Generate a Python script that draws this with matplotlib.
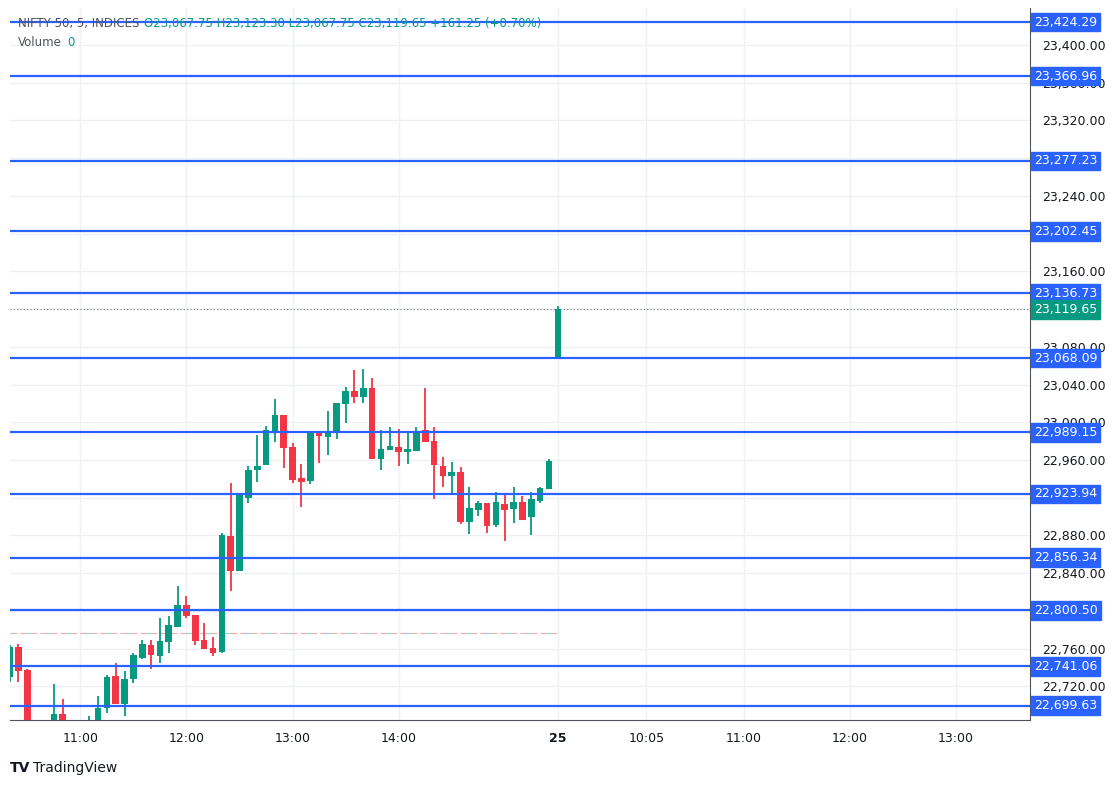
import numpy as np
import matplotlib.pyplot as plt
import matplotlib.transforms as mtransforms

# bar index 0 = 10:25 day 1, index 61 = 09:15 day 25
idx = np.arange(-1, 62)
opens = [22729.9, 22761.7, 22737.3, 22660, 22652, 22670, 22690.6, 22672, 22670, 22675, 22680,
         22697.0, 22730.9, 22701.3, 22727.8, 22750.0, 22763.8, 22752.1, 22767.0, 22782.9, 22806.2,
         22795.6, 22769.1, 22760.6, 22756.4, 22879.4, 22842.3, 22919.7, 22949.4, 22954.7, 22990.7,
         23007.7, 22973.8, 22940.9, 22937.7, 22989.7, 22984.4, 22989.7, 23019.3, 23033.1, 23026.8,
         23036.3, 22961.0, 22970.6, 22973.8, 22968.4, 22969.5, 22991.8, 22980.1, 22953.6, 22943.0,
         22947.2, 22894.2, 22907.0, 22914.4, 22891.0, 22913.3, 22908.0, 22915.4, 22899.5, 22916.5,
         22929.2, 23067.75]
highs = [22763.7, 22764.9, 22738.4, 22672, 22676, 22722.4, 22706.5, 22680, 22682, 22688.5, 22709.7,
         22732.0, 22744.7, 22736.2, 22755.3, 22769.1, 22769.1, 22792.4, 22794.6, 22826.4, 22815.8,
         22795.6, 22787.1, 22772.3, 22882.6, 22935.6, 22925.0, 22953.6, 22986.5, 22996.0, 23024.6,
         23007.7, 22978.0, 22955.7, 22989.7, 22990.7, 23011.9, 23020.4, 23037.4, 23055.4, 23056.4,
         23046.9, 22991.8, 22995.0, 22992.8, 22990.7, 22995.0, 23036.3, 22995.0, 22963.1, 22957.8,
         22952.5, 22931.3, 22916.5, 22914.4, 22926.0, 22922.9, 22931.3, 22921.8, 22926.0, 22931.3,
         22961.0, 23123.30]
lows = [22724.6, 22724.6, 22650, 22640, 22645, 22660, 22665, 22660, 22662, 22668, 22672,
        22691.7, 22701.3, 22688.5, 22723.5, 22749.0, 22738.4, 22744.7, 22755.3, 22782.9, 22792.4,
        22763.8, 22759.6, 22752.1, 22755.3, 22821.1, 22842.3, 22914.4, 22936.6, 22954.7, 22979.1,
        22951.5, 22935.6, 22910.1, 22934.5, 22956.8, 22965.3, 22982.2, 22999.2, 23020.4, 23020.4,
        22961.0, 22949.4, 22970.6, 22953.6, 22955.7, 22969.5, 22979.1, 22918.6, 22931.3, 22925.0,
        22892.1, 22881.5, 22900.6, 22882.6, 22888.9, 22874.1, 22893.2, 22896.3, 22880.4, 22914.4,
        22929.2, 23067.75]
closes = [22761.7, 22736.2, 22660, 22652, 22668, 22690.6, 22672, 22670, 22675, 22680, 22697.0,
          22729.9, 22701.3, 22727.8, 22753.2, 22764.9, 22753.2, 22768.1, 22785.0, 22806.2, 22794.6,
          22768.1, 22759.6, 22755.3, 22880.4, 22842.3, 22922.9, 22949.4, 22953.6, 22991.8, 23007.7,
          22972.7, 22938.8, 22936.6, 22989.7, 22985.4, 22990.7, 23020.4, 23033.1, 23026.8, 23036.3,
          22961.0, 22971.6, 22974.8, 22968.4, 22971.6, 22990.7, 22979.1, 22954.7, 22943.0, 22947.2,
          22894.2, 22909.1, 22914.4, 22890.0, 22915.4, 22907.0, 22915.4, 22896.3, 22918.6, 22930.3,
          22958.4, 23119.65]

levels = [23424.29, 23366.96, 23277.23, 23202.45, 23136.73, 23068.09, 22989.15,
          22923.94, 22856.34, 22800.50, 22741.06, 22699.63]
last_price = 23119.65
prev_close_line = 22776.5

tick_pos = [7, 19, 31, 43, 61, 71, 82, 94, 106]
tick_lab = ["11:00", "12:00", "13:00", "14:00", "25", "10:05", "11:00", "12:00", "13:00"]
price_ticks = np.arange(22720, 23401, 40)

GREEN = "#089981"
RED = "#F23645"
BLUE = "#2962FF"

fig = plt.figure(figsize=(11.13, 7.85), dpi=100)
ax = fig.add_axes([10 / 1113, 1 - 720 / 785, 1020 / 1113, 712 / 785])
ax.set_xlim(-0.96, 114.4)
ax.set_ylim(22684.3, 23439.2)

o = np.array(opens); h = np.array(highs); l = np.array(lows); c = np.array(closes)
col = np.where(c >= o, GREEN, RED)
ax.vlines(idx, l, h, colors=col, linewidth=1.3, zorder=3)
ax.bar(idx, np.maximum(np.abs(c - o), 0.8), bottom=np.minimum(o, c), width=0.75,
       color=col, zorder=4)

for g in price_ticks:
    ax.axhline(g, color="#eef0f3", linewidth=1, zorder=0)
for t in tick_pos:
    ax.axvline(t, color="#eef0f3", linewidth=1, zorder=0)

for lv in levels:
    ax.axhline(lv, color=BLUE, linewidth=1.6, zorder=5)
ax.axhline(last_price, color="#787b86", linewidth=0.8, linestyle=(0, (1, 2)), zorder=2)
ax.plot([-0.96, 61], [prev_close_line] * 2, color="#f7a9a9", linewidth=0.8,
        linestyle=(0, (6, 3)), zorder=2)
ax.plot([-0.96, 61], [prev_close_line] * 2, color="#9bd3c6", linewidth=0.8,
        linestyle=(4.5, (6, 12)), zorder=2)

# tick labels fully hidden behind the level boxes are left out
shown = [v if min(abs(v - lv) for lv in levels + [last_price]) > 6 else None for v in price_ticks]
ax.yaxis.tick_right()
ax.set_yticks(price_ticks)
ax.set_yticklabels([f"{v:,.2f}" if v is not None else "" for v in shown],
                   fontsize=9, color="#131722")
ax.set_xticks(tick_pos)
ax.set_xticklabels(tick_lab, fontsize=9, color="#131722")
for lab in ax.get_xticklabels():
    if lab.get_text() == "25":
        lab.set_fontweight("bold")
ax.tick_params(length=0, pad=9)
ax.tick_params(axis="y", pad=9)
for s in ["top", "left"]:
    ax.spines[s].set_visible(False)
ax.spines["right"].set_color("#50535e")
ax.spines["bottom"].set_color("#50535e")

tr = mtransforms.blended_transform_factory(ax.transAxes, ax.transData)
for lv in levels:
    ax.text(1.004, lv, f"{lv:,.2f}", transform=tr, fontsize=9, color="white",
            va="center", ha="left", zorder=10,
            bbox=dict(boxstyle="square,pad=0.22", fc=BLUE, ec=BLUE))
ax.text(1.004, last_price, f"{last_price:,.2f}", transform=tr, fontsize=9, color="white",
        va="center", ha="left", zorder=10,
        bbox=dict(boxstyle="square,pad=0.22", fc=GREEN, ec=GREEN))

fig.text(18 / 1113, 1 - 24 / 785, "NIFTY 50, 5, INDICES", fontsize=8.5, color="#50535e", va="center")
fig.text(144 / 1113, 1 - 24 / 785,
         "O23,067.75 H23,123.30 L23,067.75 C23,119.65 +161.25 (+0.70%)",
         fontsize=8.5, color=GREEN, va="center")
fig.text(18 / 1113, 1 - 42 / 785, "Volume", fontsize=8.5, color="#50535e", va="center")
fig.text(67 / 1113, 1 - 42 / 785, "0", fontsize=8.5, color=GREEN, va="center")
fig.text(10 / 1113, 1 - 768 / 785, "TV", fontsize=10, fontweight="bold", color="#131722", va="center")
fig.text(33 / 1113, 1 - 768 / 785, "TradingView", fontsize=10, color="#131722", va="center")

fig.savefig("out.png", dpi=100)
